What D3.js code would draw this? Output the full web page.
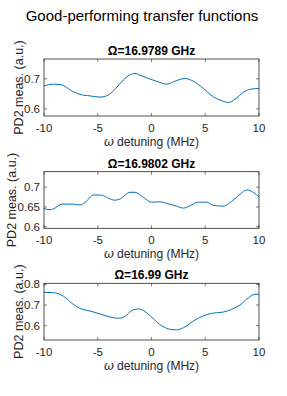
<!DOCTYPE html>
<html><head><meta charset="utf-8">
<script src="https://cdn.jsdelivr.net/npm/d3@7"></script>
<style>body{margin:0;background:#fff}text{font-family:"Liberation Sans",Arial,sans-serif}</style>
</head><body>
<svg id="c" width="287" height="396"></svg>
<script>
const mainTitle = "Good-performing transfer functions";
const titles = ["Ω=16.9789 GHz", "Ω=16.9802 GHz", "Ω=16.99 GHz"];
const xTicks = [-10, -5, 0, 5, 10];
const yTicks1 = [0.6, 0.7];
const yTicks2 = [0.6, 0.65, 0.7];
const yTicks3 = [0.6, 0.7, 0.8];
const x1 = [-10,-9.13,-8.51,-7.27,-6.65,-5.72,-4.79,-4.02,-3.40,-2.62,-2.0,-1.53,-1.07,-0.14,0.79,1.41,2.03,3.12,3.89,4.82,5.75,6.53,7.15,7.77,8.54,9.32,10];
const y1 = [0.676,0.682,0.681,0.657,0.648,0.643,0.639,0.646,0.665,0.696,0.713,0.718,0.712,0.699,0.688,0.682,0.690,0.701,0.692,0.668,0.640,0.627,0.621,0.632,0.655,0.666,0.668];
const x2 = [-10,-9.44,-8.98,-8.36,-7.27,-6.65,-6.19,-5.41,-4.64,-4.02,-3.40,-2.93,-2.0,-1.53,-0.76,0.02,0.79,1.41,2.34,2.96,3.58,4.36,5.13,5.75,6.68,7.46,8.23,8.85,9.47,10];
const y2 = [0.646,0.643,0.647,0.657,0.657,0.655,0.661,0.680,0.680,0.672,0.667,0.670,0.687,0.687,0.674,0.662,0.663,0.659,0.652,0.647,0.653,0.662,0.662,0.654,0.652,0.664,0.682,0.693,0.687,0.675];
const x3 = [-10,-9.13,-8.20,-7.27,-6.65,-5.72,-4.79,-3.86,-3.09,-2.47,-1.84,-1.22,-0.76,0.02,0.95,1.88,2.34,2.96,4.05,4.82,5.60,6.68,7.46,8.23,9.01,9.63,10];
const y3 = [0.761,0.760,0.743,0.703,0.684,0.671,0.657,0.642,0.636,0.645,0.673,0.681,0.674,0.641,0.600,0.581,0.580,0.590,0.628,0.647,0.660,0.666,0.679,0.700,0.735,0.752,0.752];
const yDomains = [[0.576,0.766],[0.596,0.739],[0.531,0.805]];

const panels = [
  {x:x1,y:y1,yt:yTicks1,top:59,bottom:116,tf:d3.format(".1f"),lx:23},
  {x:x2,y:y2,yt:yTicks2,top:171.7,bottom:228.3,tf:d=>String(+d.toFixed(2)),lx:16},
  {x:x3,y:y3,yt:yTicks3,top:283.3,bottom:340,tf:d3.format(".1f"),lx:23}
];
const svg = d3.select("#c");
const L = 44, R = 259, tc = "#262626";
svg.append("text").attr("x",142).attr("y",21).attr("text-anchor","middle")
  .attr("font-size",15).attr("fill","#000").text(mainTitle);

panels.forEach((p,i)=>{
  const xs = d3.scaleLinear().domain([-10,10]).range([L,R]);
  const ys = d3.scaleLinear().domain(yDomains[i]).range([p.bottom,p.top]);
  const g = svg.append("g");
  const tl = 3;
  xTicks.forEach(t=>{
    g.append("line").attr("x1",xs(t)).attr("x2",xs(t)).attr("y1",p.bottom).attr("y2",p.bottom-tl).attr("stroke",tc).attr("stroke-width",0.6);
    g.append("line").attr("x1",xs(t)).attr("x2",xs(t)).attr("y1",p.top).attr("y2",p.top+tl).attr("stroke",tc).attr("stroke-width",0.6);
    g.append("text").attr("x",xs(t)).attr("y",p.bottom+15.5).attr("text-anchor","middle").attr("font-size",11.5).attr("fill",tc).text(t);
  });
  p.yt.forEach(t=>{
    g.append("line").attr("x1",L).attr("x2",L+tl).attr("y1",ys(t)).attr("y2",ys(t)).attr("stroke",tc).attr("stroke-width",0.6);
    g.append("line").attr("x1",R).attr("x2",R-tl).attr("y1",ys(t)).attr("y2",ys(t)).attr("stroke",tc).attr("stroke-width",0.6);
    g.append("text").attr("x",L-4).attr("y",ys(t)+4).attr("text-anchor","end").attr("font-size",11.5).attr("fill",tc).text(p.tf(t));
  });
  const line = d3.line().x((d,k)=>xs(p.x[k])).y(d=>ys(d)).curve(d3.curveMonotoneX);
  g.append("path").attr("d",line(p.y)).attr("fill","none").attr("stroke","#0072BD").attr("stroke-width",1);
  g.append("rect").attr("x",L).attr("y",p.top).attr("width",R-L).attr("height",p.bottom-p.top)
    .attr("fill","none").attr("stroke",tc).attr("stroke-width",0.8);
  g.append("text").attr("x",(L+R)/2).attr("y",p.top-4).attr("text-anchor","middle").attr("font-size",12)
    .attr("font-weight","bold").attr("fill","#000").text(titles[i]);
  g.append("text").attr("x",(L+R)/2).attr("y",p.bottom+30).attr("text-anchor","middle").attr("font-size",12)
    .attr("fill",tc).html('<tspan font-style="italic" font-family="DejaVu Serif">ω</tspan> detuning (MHz)');
  const cy = (p.top+p.bottom)/2;
  g.append("text").attr("transform",`translate(${p.lx},${cy}) rotate(-90)`).attr("text-anchor","middle")
    .attr("font-size",12.5).attr("fill",tc).text("PD2 meas. (a.u.)");
});
</script>
</body></html>
